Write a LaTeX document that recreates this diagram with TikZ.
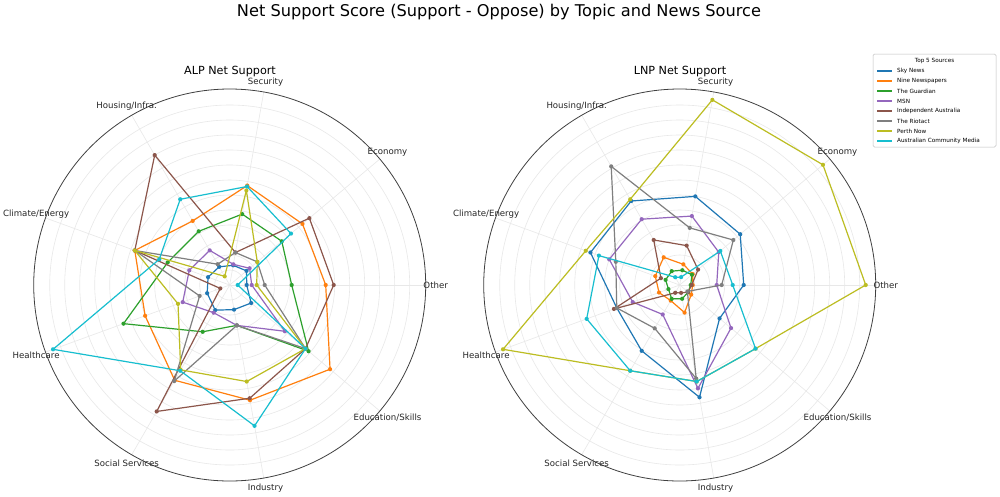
\documentclass[tikz,border=0pt]{standalone}
\usepackage{fontspec}
\setmainfont{DejaVu Sans}
\definecolor{cSky}{HTML}{1F77B4}
\definecolor{cNine}{HTML}{FF7F0E}
\definecolor{cGua}{HTML}{2CA02C}
\definecolor{cMSN}{HTML}{9467BD}
\definecolor{cInd}{HTML}{8C564B}
\definecolor{cRio}{HTML}{7F7F7F}
\definecolor{cPer}{HTML}{BCBD22}
\definecolor{cAcm}{HTML}{17BECF}
\definecolor{gridc}{HTML}{E8E8E8}
\newcommand\radar[9]{%
  \draw[ser] (0:#1) -- (40:#2) -- (80:#3) -- (120:#4) -- (160:#5) -- (200:#6) -- (240:#7) -- (280:#8) -- (320:#9) -- cycle;
  \foreach \aa/\rr in {0/#1,40/#2,80/#3,120/#4,160/#5,200/#6,240/#7,280/#8,320/#9}{\fill (\aa:\rr) circle (2.1);}}
\newcommand\polarframe{%
  \foreach \k in {15,30,...,180}{\draw[gridc,line width=0.6pt] (0,0) circle (\k);}
  \foreach \a in {0,40,...,320}{\draw[gridc,line width=0.6pt] (0,0) -- (\a:196);}
  \draw[black!75,line width=0.8pt] (0,0) circle (196);
  \foreach \a/\t in {0/Other,40/Economy,80/Security,120/Housing\slash Infra.,160/Climate\slash Energy,200/Healthcare,240/Social Services,280/Industry,320/Education\slash Skills}{\node[lab] (l\a) at (\a:206) {\t};}}
\begin{document}
\begin{tikzpicture}[x=1pt,y=1pt,
  ser/.style={line width=1.2pt,line join=round},
  lab/.style={font=\fontsize{8.6}{9}\selectfont,text=black!85,inner sep=0pt},
  leg/.style={font=\fontsize{5.7}{6.5}\selectfont,anchor=west,inner sep=0pt}]
\useasboundingbox (0,0) rectangle (1000,-496);
\fill[white] (0,0) rectangle (1000,-496);
\node[font=\fontsize{16.2}{18}\selectfont] (title) at (499,-12) {Net Support Score (Support - Oppose) by Topic and News Source};
\node[font=\fontsize{11.2}{12}\selectfont] (tA) at (230,-72) {ALP Net Support};
\node[font=\fontsize{11.2}{12}\selectfont] (tB) at (680,-72) {LNP Net Support};
% ALP
\begin{scope}[shift={(229.7,-285)}]
\polarframe
\begin{scope}[color=cSky]\radar{17}{22}{20}{21}{23}{24}{29}{25}{28}\end{scope}
\begin{scope}[color=cNine]\radar{96}{95}{101}{74}{101}{90}{110}{117}{131}\end{scope}
\begin{scope}[color=cGua]\radar{62}{68}{72}{62}{66}{113}{54}{41}{103}\end{scope}
\begin{scope}[color=cMSN]\radar{22}{26}{21}{40}{43}{50}{32}{41}{72}\end{scope}
\begin{scope}[color=cInd]\radar{104}{104}{33}{150}{101}{10}{146}{115}{99}\end{scope}
\begin{scope}[color=cRio]\radar{35}{36}{33}{24}{101}{32}{111}{41}{99}\end{scope}
\begin{scope}[color=cPer]\radar{27}{36}{96}{10}{101}{55}{98}{98}{99}\end{scope}
\begin{scope}[color=cAcm]\radar{8}{80}{100}{99}{75}{188}{99}{143}{99}\end{scope}
\end{scope}
% LNP
\begin{scope}[shift={(679.7,-285)}]
\polarframe
\begin{scope}[color=cSky]\radar{64}{79}{90}{97}{95}{67}{76}{114}{52}\end{scope}
\begin{scope}[color=cNine]\radar{13}{17}{21}{32}{26}{22}{18}{28}{15}\end{scope}
\begin{scope}[color=cGua]\radar{11}{16}{15}{16}{15}{12}{16}{14}{11}\end{scope}
\begin{scope}[color=cMSN]\radar{37}{51}{70}{76}{75}{50}{34}{105}{67}\end{scope}
\begin{scope}[color=cInd]\radar{12}{24}{40}{52}{20}{70}{9}{8}{11}\end{scope}
\begin{scope}[color=cRio]\radar{42}{70}{58}{137}{68}{67}{50}{95}{10}\end{scope}
\begin{scope}[color=cPer]\radar{186}{187}{188}{99}{100}{188}{99}{98}{99}\end{scope}
\begin{scope}[color=cAcm]\radar{53}{53}{8}{9}{86}{99}{99}{98}{99}\end{scope}
\end{scope}
% legend
\draw[black!25,line width=0.5pt,rounded corners=1.5] (873,-54) rectangle (996,-147);
\node[font=\fontsize{5.7}{6.5}\selectfont,inner sep=0pt] (lt) at (934.5,-61) {Top 5 Sources};
\foreach \c/\t [count=\i from 0] in {cSky/Sky News,cNine/Nine Newspapers,cGua/The Guardian,cMSN/MSN,cInd/Independent Australia,cRio/The Riotact,cPer/Perth Now,cAcm/Australian Community Media}{
  \draw[\c,line width=1.3pt] (877,-71-10*\i) -- (892,-71-10*\i);
  \node[leg] (e\i) at (897,-71-10*\i) {\t};
}
\end{tikzpicture}
\end{document}
